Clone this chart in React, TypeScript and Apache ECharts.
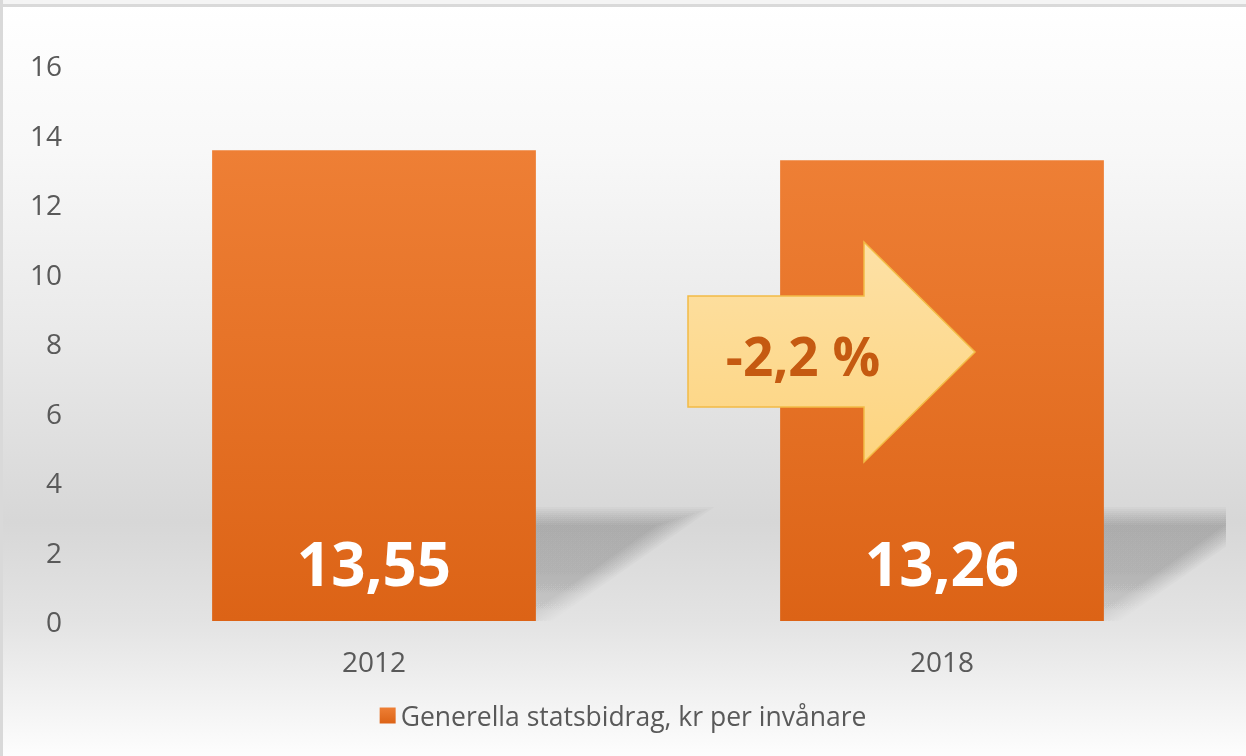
import React, { useEffect, useRef } from "react";
import * as echarts from "echarts";

const categories = ["2012", "2018"];
const values = [13.55, 13.26];
const seriesName = "Generella statsbidrag, kr per invånare";
const changeLabel = "-2,2 %";
const yTicks = { min: 0, max: 16, interval: 2 };

const FONT = "'Open Sans', 'Noto Sans', sans-serif";

export default function App() {
  const ref = useRef<HTMLDivElement>(null);
  useEffect(() => {
    if (!ref.current) return;
    const chart = echarts.init(ref.current, null, { renderer: "svg" });
    const barRatio = 0.57;
    const shadowData = values.map((v, i) => [i, v]);
    chart.setOption({
      animation: false,
      graphic: [
        {
          type: "rect",
          z: -100,
          silent: true,
          shape: { x: 0, y: 0, width: 1246, height: 756 },
          style: {
            fill: {
              type: "linear",
              x: 0,
              y: 0,
              x2: 0,
              y2: 1,
              colorStops: [
                { offset: 0, color: "#ffffff" },
                { offset: 0.2, color: "#f8f8f8" },
                { offset: 0.45, color: "#e9e9e9" },
                { offset: 0.69, color: "#d7d7d7" },
                { offset: 0.82, color: "#e3e3e3" },
                { offset: 1, color: "#fdfdfd" },
              ],
            },
          },
        },
        { type: "rect", z: 100, silent: true, shape: { x: 0, y: 0, width: 1246, height: 4 }, style: { fill: "#f4f4f4" } },
        { type: "rect", z: 100, silent: true, shape: { x: 0, y: 4, width: 1246, height: 3 }, style: { fill: "#d9d9d9" } },
        { type: "rect", z: 100, silent: true, shape: { x: 0, y: 0, width: 3, height: 756 }, style: { fill: "#d9d9d9" } },
        {
          type: "polygon",
          z: 50,
          silent: true,
          shape: {
            points: [
              [688, 296],
              [864, 296],
              [864, 242],
              [975, 352],
              [864, 462],
              [864, 407],
              [688, 407],
            ],
          },
          style: {
            fill: {
              type: "linear",
              x: 0,
              y: 0,
              x2: 0,
              y2: 1,
              colorStops: [
                { offset: 0, color: "#fde1a6" },
                { offset: 1, color: "#fdd47f" },
              ],
            },
            stroke: "#f2bb45",
            lineWidth: 1.5,
          },
        },
        {
          type: "text",
          z: 51,
          silent: true,
          x: 803,
          y: 355,
          style: {
            text: changeLabel,
            fill: "#c55a11",
            font: `bold 53px ${FONT}`,
            align: "center",
            verticalAlign: "middle",
          },
        },
      ],
      legend: {
        data: [seriesName],
        top: 697,
        left: "center",
        icon: "rect",
        itemWidth: 16,
        itemHeight: 16,
        itemGap: 10,
        textStyle: { fontFamily: FONT, fontSize: 26.5, color: "#595959" },
      },
      grid: { left: 90, right: 20, top: 65, bottom: 135 },
      xAxis: {
        type: "category",
        data: categories,
        axisLine: { show: false },
        axisTick: { show: false },
        axisLabel: { color: "#595959", fontFamily: FONT, fontSize: 28, margin: 26 },
      },
      yAxis: {
        type: "value",
        min: yTicks.min,
        max: yTicks.max,
        interval: yTicks.interval,
        splitLine: { show: false },
        axisLine: { show: false },
        axisTick: { show: false },
        axisLabel: { color: "#595959", fontFamily: FONT, fontSize: 28, margin: 28 },
      },
      series: [
        {
          type: "custom",
          name: "shadow",
          silent: true,
          clip: true,
          z: 1,
          data: shadowData,
          renderItem: (params: any, api: any) => {
            const base = api.coord([api.value(0), 0]);
            const w = api.size([1, 0])[0] * barRatio;
            const xl = base[0] - w / 2;
            const xr = base[0] + w / 2;
            const yb = base[1];
            const dx = 150;
            const dy = 105;
            const yt = yb - dy;
            const slope = dx / dy;
            const L = Math.sqrt(dx * dx + dy * dy);
            const N = 10;
            const b = 9;
            const a = 1 - Math.pow(1 - 0.21, 1 / N);
            const children = [];
            for (let k = 0; k < N; k++) {
              const e = b * (1 - (2 * k) / (N - 1));
              const h = (e * L) / dy;
              const yT = yt - e;
              const lb = xl;
              const lt = xl + (dy + e) * slope;
              const rb = xr + h;
              const rt = xr + h + (dy + e) * slope;
              children.push({
                type: "polygon",
                shape: {
                  points: [
                    [lb, yb],
                    [rb, yb],
                    [rt, yT],
                    [lt, yT],
                  ],
                },
                style: {
                  fill: {
                    type: "linear",
                    x: 0,
                    y: 0,
                    x2: 0,
                    y2: 1,
                    colorStops: [
                      { offset: 0, color: `rgba(0,0,0,${a})` },
                      { offset: 0.55, color: `rgba(0,0,0,${a * 0.95})` },
                      { offset: 1, color: `rgba(0,0,0,${a * 0.35})` },
                    ],
                  },
                },
              });
            }
            return { type: "group", children };
          },
        },
        {
          type: "bar",
          name: seriesName,
          z: 5,
          data: values,
          barWidth: `${barRatio * 100}%`,
          itemStyle: {
            color: {
              type: "linear",
              x: 0,
              y: 0,
              x2: 0,
              y2: 1,
              colorStops: [
                { offset: 0, color: "#ee7f35" },
                { offset: 1, color: "#dc6316" },
              ],
            },
          },
          label: {
            show: true,
            position: "insideBottom",
            distance: 28,
            color: "#ffffff",
            fontFamily: FONT,
            fontWeight: "bold",
            fontSize: 60,
            lineHeight: 60,
            formatter: (p: any) => p.value.toFixed(2).replace(".", ","),
          },
        },
      ],
    });
    return () => chart.dispose();
  }, []);
  return (
    <div
      ref={ref}
      style={{ position: "fixed", left: 0, top: 0, width: 1246, height: 756 }}
    />
  );
}
